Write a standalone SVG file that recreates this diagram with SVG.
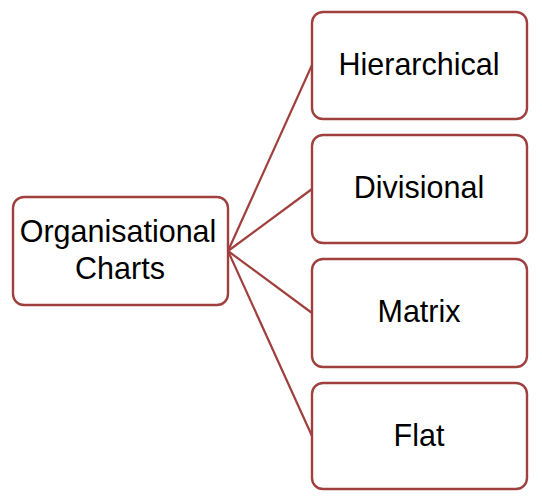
<svg xmlns="http://www.w3.org/2000/svg" width="542" height="500" viewBox="0 0 542 500">
<style>
.box{fill:#ffffff;stroke:#a0403e;stroke-width:2.4}
.lbl{font-family:"Liberation Sans",Arial,sans-serif;font-size:30.5px;fill:#000;text-anchor:middle}
.con{stroke:#a0403e;stroke-width:2.2;fill:none}
</style>
<rect width="542" height="500" fill="#ffffff"/>
<g id="connectors">
<line class="con" x1="228" y1="251" x2="312" y2="65"/>
<line class="con" x1="228" y1="251" x2="312" y2="189"/>
<line class="con" x1="228" y1="251" x2="312" y2="313"/>
<line class="con" x1="228" y1="251" x2="312" y2="436"/>
</g>
<g id="org">
<rect class="box" x="13" y="197" width="215" height="108" rx="11"/>
<text class="lbl" x="118" y="242">Organisational</text>
<text class="lbl" x="120" y="279">Charts</text>
</g>
<g id="hierarchical">
<rect class="box" x="312" y="12" width="215" height="107" rx="11"/>
<text class="lbl" x="419" y="75">Hierarchical</text>
</g>
<g id="divisional">
<rect class="box" x="312" y="135" width="215" height="108" rx="11"/>
<text class="lbl" x="419" y="198">Divisional</text>
</g>
<g id="matrix">
<rect class="box" x="312" y="259" width="215" height="108" rx="11"/>
<text class="lbl" x="419" y="322">Matrix</text>
</g>
<g id="flat">
<rect class="box" x="312" y="383" width="215" height="106" rx="11"/>
<text class="lbl" x="419" y="446">Flat</text>
</g>
</svg>
